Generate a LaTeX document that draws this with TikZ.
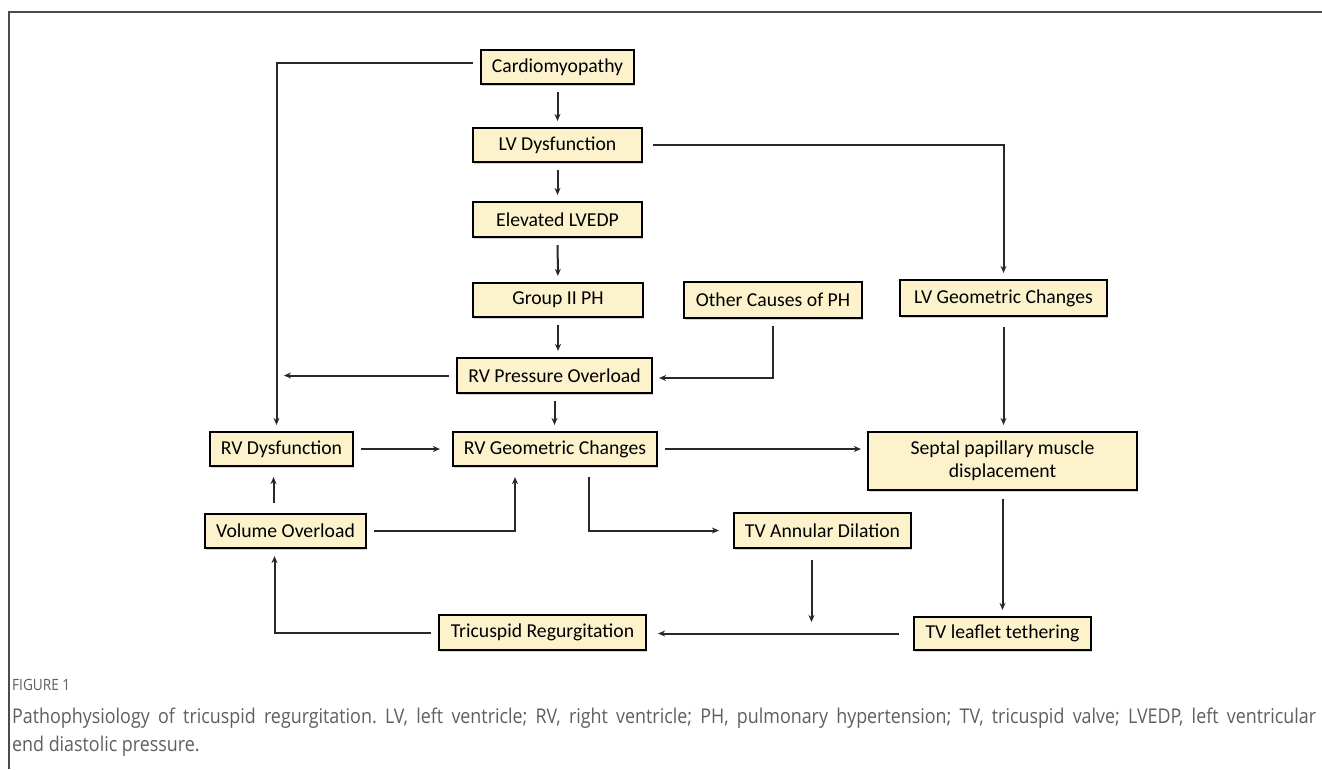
\documentclass[tikz,border=0pt]{standalone}
\usepackage{fontspec}
\setmainfont{Carlito}
\newfontfamily\capfont[FakeStretch=0.88]{Open Sans}
\usetikzlibrary{arrows.meta,shadows}
\definecolor{boxfill}{RGB}{252,242,204}
\definecolor{linegray}{RGB}{40,40,40}
\definecolor{capgray}{RGB}{95,95,95}
\definecolor{framegray}{RGB}{75,75,75}
\frenchspacing
\begin{document}
\begin{tikzpicture}[x=1pt,y=-1pt,
  box/.style={draw=black,line width=2.2pt,fill=boxfill,inner sep=0pt,align=center,
    font=\fontsize{19.7}{23}\selectfont,
    drop shadow={shadow xshift=1.2pt,shadow yshift=-1.5pt,opacity=0.35}},
  arr/.style={draw=linegray,line width=2pt,-{Stealth[length=7pt,width=6pt]},
    shorten <=7pt,shorten >=6pt},
  captxt/.style={inner sep=0pt,anchor=base west,text=capgray}
]
\fill[white] (0,0) rectangle (1322,769);
\useasboundingbox (0,0) rectangle (1322,769);
% frame
\draw[framegray,line width=1.6pt] (1322,12) -- (9,12) -- (9,769);

% boxes
\node[box,minimum width=153pt,minimum height=34pt] (cardio) at (557.5,67) {Cardiomyopathy};
\node[box,minimum width=169pt,minimum height=34pt] (lvd) at (557.5,145) {LV Dysfunction};
\node[box,minimum width=169pt,minimum height=35pt] (elev) at (557.5,219.5) {Elevated LVEDP};
\node[box,minimum width=170pt,minimum height=34pt] (g2) at (558,300) {Group II PH};
\node[box,minimum width=195pt,minimum height=35pt] (rvpo) at (554.5,375.5) {RV Pressure Overload};
\node[box,minimum width=178pt,minimum height=36pt] (other) at (773,300) {Other Causes of PH};
\node[box,minimum width=207pt,minimum height=36pt] (lvg) at (1003.5,298) {LV Geometric Changes};
\node[box,minimum width=143pt,minimum height=34pt] (rvd) at (281.5,449) {RV Dysfunction};
\node[box,minimum width=204pt,minimum height=34pt] (rvgc) at (555,449) {RV Geometric Changes};
\node[box,minimum width=269pt,minimum height=58pt] (septal) at (1002.5,461) {Septal papillary muscle\\displacement};
\node[box,minimum width=161pt,minimum height=34pt] (vo) at (285.5,531) {Volume Overload};
\node[box,minimum width=177pt,minimum height=35pt] (tva) at (822.5,530.5) {TV Annular Dilation};
\node[box,minimum width=207pt,minimum height=35pt] (tr) at (542.5,632.5) {Tricuspid Regurgitation};
\node[box,minimum width=177pt,minimum height=33pt] (tvl) at (1002.5,633.5) {TV leaflet tethering};

% free ends
\coordinate (rvpoEnd) at (284,375.5);
\coordinate (tvaEnd) at (811.5,622);

% connectors
\draw[arr] (cardio) -- (lvd);
\draw[arr] (lvd) -- (elev);
\draw[arr] (elev) -- (g2);
\draw[arr] (g2.south) -- (g2.south |- rvpo.north);
\draw[arr] (rvpo.south) -- (rvpo.south |- rvgc.north);
\draw[arr] ([yshift=4pt]cardio.west) -| ([xshift=-5pt]rvd.north);
\draw[arr,shorten >=0pt] (rvpo.west) -- (rvpoEnd);
\draw[arr] (other.south) |- ([yshift=-2.5pt]rvpo.east);
\draw[arr,shorten <=10pt] (lvd.east) -| (lvg.north);
\draw[arr,shorten <=10pt] (lvg.south) -- (lvg.south |- septal.north);
\draw[arr,shorten >=12pt] (rvd) -- (rvgc);
\draw[arr] (rvgc.east) -- (rvgc.east -| septal.west);
\draw[arr,shorten <=10pt,shorten >=10pt] ([xshift=-12pt]vo.north) -- ([xshift=-12pt]vo.north |- rvd.south);
\draw[arr,shorten >=10pt] (vo.east) -| ([xshift=-40pt]rvgc.south);
\draw[arr,shorten <=10pt,shorten >=14pt] ([xshift=34pt]rvgc.south) |- (tva.west);
\draw[arr,shorten <=11pt,shorten >=0pt] ([xshift=-11pt]tva.south) -- (tvaEnd);
\draw[arr,shorten <=8pt] (septal) -- (tvl);
\draw[arr,shorten <=14pt,shorten >=11pt] (tvl.west) -- (tvl.west -| tr.east);
\draw[arr,shorten >=7pt] (tr.west) -| ([xshift=-11pt]vo.south);

% caption
\node[captxt,font=\capfont\fontsize{15.5}{18}\selectfont] (figlbl) at (12,690) {FIGURE 1};
\node[captxt,font=\capfont\fontsize{20.3}{22}\selectfont] (cap1) at (12,723)
  {\makebox[1304pt][s]{Pathophysiology of tricuspid regurgitation. LV, left ventricle; RV, right ventricle; PH, pulmonary hypertension; TV, tricuspid valve; LVEDP, left ventricular}};
\node[captxt,font=\capfont\fontsize{20.3}{22}\selectfont] (cap2) at (12,751) {end diastolic pressure.};
\end{tikzpicture}
\end{document}
